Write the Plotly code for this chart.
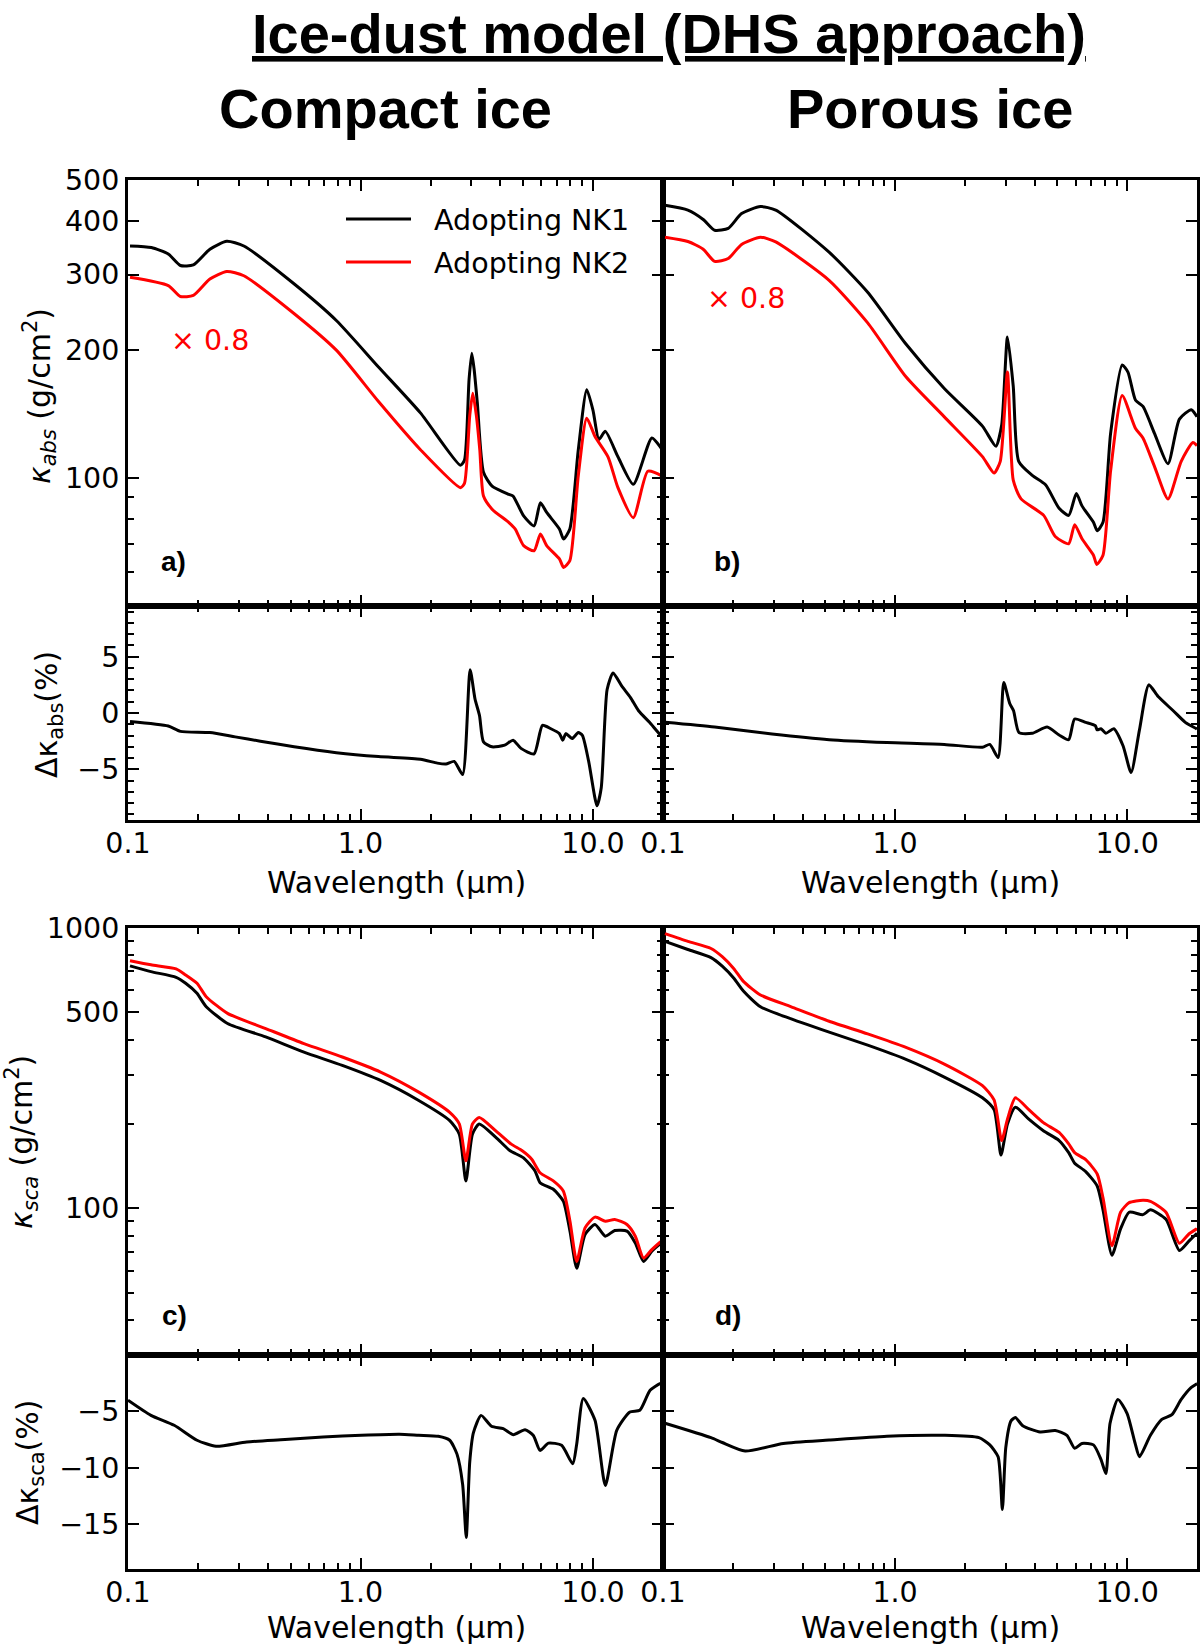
import numpy as np
import plotly.graph_objects as go

W, H = 1200, 1645

# ---------------- data ----------------
# panel a: compact ice, kappa_abs
wl_a_nk1 = [0.102, 0.126, 0.149, 0.168, 0.191, 0.225, 0.266, 0.315, 0.519, 0.787, 1.195, 1.81,
            2.69, 2.8, 2.93, 3.01, 3.08, 3.18, 3.38, 3.68, 4.35, 4.53, 5.03, 5.58, 5.94, 6.32,
            7.17, 7.47, 7.95, 8.64, 9.4, 10.0, 10.6, 11.3, 12.8, 14.9, 17.9, 19.5, 20.0]
kabs_a_nk1 = [350, 347, 335, 315, 316, 344, 359, 350, 285, 234, 182, 142,
              107, 110, 170, 196, 180, 150, 103, 95.6, 91.4, 90.6, 81.4, 77.1, 87.4, 82.9,
              75.8, 71.8, 75.8, 116, 161, 144, 123, 128.5, 112, 96.5, 124, 118, 115]
wl_a_nk2 = [0.102, 0.149, 0.168, 0.191, 0.225, 0.266, 0.315, 0.519, 0.787, 1.195, 1.81,
            2.69, 2.8, 2.95, 3.04, 3.15, 3.26, 3.38, 3.68, 4.35, 4.63, 5.03, 5.58, 5.94, 6.32,
            7.17, 7.47, 7.95, 8.64, 9.4, 10.2, 11.6, 12.8, 14.9, 17.2, 19.5, 20.0]
kabs_a_nk2_x08 = [295.5, 282.6, 266.4, 268, 292.8, 305, 298, 242.7, 199.3, 151, 116.4,
                  94.8, 97, 140, 157.9, 140, 116, 90.6, 84.4, 78.5, 75.8, 69.3, 67.4, 73.8, 69.3,
                  64.5, 61.6, 63.9, 100.9, 138, 125, 112, 94.8, 80.6, 103.6, 101.4, 100]

# panel b: porous ice, kappa_abs
wl_b_nk1 = [0.102, 0.128, 0.149, 0.167, 0.191, 0.218, 0.263, 0.306, 0.521, 0.762, 1.114, 1.63,
            2.38, 2.72, 2.88, 3.05, 3.23, 3.41, 3.9, 4.45, 5.09, 5.6, 6.04, 6.39, 7.16, 7.43,
            7.87, 8.49, 9.52, 10.08, 10.87, 11.7, 13.1, 15.0, 16.8, 18.9, 20.0]
kabs_b_nk1 = [436, 425, 404, 381, 385, 417, 433, 425, 338, 272.6, 206, 162,
              132.2, 118.6, 133, 214, 164, 109.3, 101.3, 96.3, 84.8, 81.6, 91.9, 85.9, 78.6, 75.1,
              78.6, 127.3, 183.9, 177, 152, 147, 127.3, 107.9, 137.3, 144.5, 139]
wl_b_nk2 = [0.102, 0.128, 0.149, 0.167, 0.191, 0.218, 0.263, 0.306, 0.521, 0.762, 1.114, 1.63,
            2.38, 2.67, 2.84, 3.05, 3.23, 3.49, 4.37, 4.9, 5.6, 5.94, 6.39, 7.16, 7.4,
            7.87, 8.49, 9.52, 10.87, 11.7, 13.1, 15.0, 17.1, 19.2, 20.0]
kabs_b_nk2_x08 = [367, 358.6, 344, 322, 327, 353, 367, 357.8, 290.4, 231, 172.6, 139,
                  112.1, 102.6, 109.3, 177, 98.7, 89.2, 81.6, 72.8, 70, 77.6, 71.9, 65.8, 62.6,
                  65.8, 103.9, 156, 130.5, 124, 106.5, 89.2, 109.3, 121, 119]

# relative difference of kappa_abs (%)
wl_da = [0.102, 0.149, 0.168, 0.225, 0.289, 0.371, 0.518, 0.787, 1.195, 1.81, 2.14, 2.33, 2.53,
         2.75, 2.96, 3.11, 3.25, 3.38, 3.68, 4.17, 4.53, 4.9, 5.58, 6.06, 6.59, 7.17, 7.41,
         7.64, 8.13, 8.64, 9.0, 9.58, 10.4, 10.85, 11.5, 12.2, 13.3, 14.5, 15.7, 17.5, 19.6, 20.0]
dkabs_a = [-0.76, -1.16, -1.63, -1.74, -2.12, -2.5, -3.0, -3.52, -3.87, -4.1, -4.45, -4.53, -4.3,
           -5.47, 3.84, 1.22, -0.23, -2.56, -3.0, -2.85, -2.41, -3.14, -3.63, -1.1, -1.4, -1.83, -2.41,
           -1.83, -2.27, -1.74, -1.98, -4.3, -8.23, -6.63, 2.09, 3.55, 2.38, 1.37, 0.2, -0.83, -2.0, -2.1]
wl_db = [0.102, 0.167, 0.295, 0.52, 0.922, 1.63, 2.38, 2.56, 2.78, 2.94, 3.12, 3.24, 3.42, 3.9,
         4.52, 5.09, 5.6, 5.94, 6.63, 7.29, 7.43, 7.71, 8.1, 8.76, 9.6, 10.4, 11.3, 12.4, 13.6,
         15.8, 17.8, 19.9, 20.0]
dkabs_b = [-0.83, -1.25, -1.87, -2.37, -2.62, -2.79, -3.04, -2.79, -3.95, 2.71, 0.84, 0.2, -1.75,
           -1.8, -1.25, -1.95, -2.37, -0.53, -0.83, -1.12, -1.5, -1.4, -1.8, -1.4, -2.91, -5.29,
           -1.5, 2.5, 1.46, 0.2, -0.83, -1.4, -1.45]

# panel c: compact ice, kappa_sca
wl_c_nk1 = [0.102, 0.1255, 0.161, 0.177, 0.198, 0.217, 0.268, 0.391, 0.571, 0.835, 1.22, 1.78,
            2.42, 2.66, 2.84, 3.03, 3.24, 3.82, 4.4, 5.01, 5.63, 5.92, 6.75, 7.45, 7.96, 8.51,
            9.24, 10.2, 11.3, 12.4, 14.0, 15.2, 16.5, 17.9, 19.7, 20.0]
ksca_c_nk1 = [733, 699, 667, 635, 585, 524, 456.6, 409, 361, 323.6, 286, 242.6,
              205.6, 184, 125.3, 184, 200, 179.2, 160.5, 151.7, 136, 123.5, 117, 106.2, 82.9, 61.2,
              80.7, 87.6, 79.6, 83.4, 83, 75.3, 64.7, 70.3, 75.3, 76]
wl_c_nk2 = [0.102, 0.1255, 0.161, 0.177, 0.198, 0.217, 0.268, 0.391, 0.571, 0.835, 1.22, 1.78,
            2.42, 2.66, 2.84, 3.03, 3.24, 3.82, 4.45, 4.96, 5.45, 5.92, 6.75, 7.45, 7.96, 8.51,
            9.24, 10.2, 11.3, 12.4, 14.0, 15.2, 16.5, 17.9, 19.7, 20.0]
ksca_c_nk2 = [764, 739, 715, 680, 635, 569, 496, 438, 387, 346.7, 306.4, 259.8,
              220, 200, 147.8, 200, 211, 189, 169.5, 160.5, 149.8, 134, 125.3, 115.3, 90, 64.7,
              85.2, 93.1, 90, 91.3, 87.6, 79.6, 66.5, 71.3, 76.4, 77]

# panel d: porous ice, kappa_sca
wl_d_nk1 = [0.102, 0.128, 0.161, 0.18, 0.202, 0.222, 0.263, 0.357, 0.52, 0.762, 1.114, 1.63,
            2.38, 2.67, 2.86, 3.05, 3.3, 3.77, 4.37, 5.09, 5.6, 5.94, 6.63, 7.43, 7.87, 8.6,
            9.37, 10.2, 11.7, 12.6, 14.7, 16.8, 18.5, 19.9, 20.0]
ksca_d_nk1 = [896, 838, 784, 731, 662, 596, 523.6, 474, 425, 382, 340, 294,
              248, 225, 155, 200, 229.6, 208, 188.8, 174.6, 158, 145, 135.3, 120.2, 98.8, 68.1,
              84.5, 96.9, 95, 98.8, 91.4, 70.8, 76.6, 81.2, 81.5]
wl_d_nk2 = [0.102, 0.128, 0.161, 0.18, 0.202, 0.222, 0.263, 0.357, 0.52, 0.762, 1.114, 1.63,
            2.38, 2.67, 2.88, 3.05, 3.3, 3.77, 4.37, 5.09, 5.6, 5.94, 6.63, 7.43, 7.87, 8.6,
            9.37, 10.2, 11.7, 12.6, 14.7, 16.8, 18.5, 19.9, 20.0]
ksca_d_nk2 = [955, 896, 845, 790, 716, 645, 577, 523.6, 465, 419, 375, 327,
              274, 243.6, 174.6, 208, 248, 225, 201.8, 186.6, 169.8, 158, 149.2, 132.6, 109, 73.6,
              96.9, 104.8, 106.9, 106, 96.9, 75.1, 81.2, 84.5, 85]

# relative difference of kappa_sca (%)
wl_dc = [0.1, 0.1255, 0.158, 0.198, 0.239, 0.324, 0.473, 0.69, 1.01, 1.47, 1.78, 2.16, 2.42,
         2.6, 2.75, 2.85, 2.95, 3.06, 3.3, 3.66, 4.11, 4.54, 5.1, 5.54, 5.92, 6.43, 7.33, 8.18,
         8.51, 9.08, 10.2, 11.3, 12.65, 14.4, 15.9, 17.6, 19.4, 20.0]
dksca_c = [-4.02, -5.36, -6.24, -7.57, -8.1, -7.72, -7.51, -7.28, -7.13, -7.04, -7.13, -7.22, -7.57,
           -8.8, -11.5, -16.2, -9.5, -6.9, -5.36, -6.33, -6.54, -7.08, -6.63, -7.14, -8.47, -7.82,
           -8.02, -9.66, -7.9, -3.87, -5.8, -11.58, -6.69, -5.06, -4.91, -3.13, -2.54, -2.5]
wl_dd = [0.102, 0.161, 0.18, 0.226, 0.33, 0.52, 0.922, 1.63, 2.3, 2.56, 2.78, 2.9, 3.0, 3.16,
         3.3, 3.55, 4.22, 4.9, 5.5, 5.94, 6.39, 7.16, 7.71, 8.1, 8.44, 9.12, 10.0, 10.8, 11.3,
         12.6, 14.1, 15.6, 17.1, 18.9, 19.9, 20.0]
dksca_d = [-6.06, -7.34, -7.77, -8.53, -7.85, -7.55, -7.21, -7.13, -7.34, -7.98, -9.04, -13.72,
           -8.2, -5.85, -5.55, -6.28, -6.83, -6.7, -7.13, -8.28, -7.85, -7.98, -9.26, -10.53,
           -6.06, -3.94, -5.2, -7.77, -9.04, -7.13, -5.72, -5.3, -3.94, -2.87, -2.57, -2.55]

x_ticks = [0.1, 1, 10]
x_ticktext = ["0.1", "1.0", "10.0"]
x_minor = [0.2, 0.3, 0.4, 0.5, 0.6, 0.7, 0.8, 0.9, 2, 3, 4, 5, 6, 7, 8, 9]
kabs_ticks = [100, 200, 300, 400, 500]
kabs_minor = [60, 70, 80, 90]
ksca_ticks = [100, 500, 1000]
ksca_minor = [40, 50, 60, 70, 80, 90, 200, 300, 400, 600, 700, 800, 900]
dabs_ticks = [-5, 0, 5]
dsca_ticks = [-15, -10, -5]

NK1 = "black"
NK2 = "#ff0000"
FONT = "DejaVu Sans"
TICK_SIZE = 28.5
LABEL_SIZE = 30


def px(x):
    return x / W


def py(y):
    return 1 - y / H


fig = go.Figure()

panels = [
    # (axis index, x data, y data, colour, name, legend)
    (1, wl_a_nk1, kabs_a_nk1, NK1, "Adopting NK1", True),
    (1, wl_a_nk2, kabs_a_nk2_x08, NK2, "Adopting NK2", True),
    (2, wl_b_nk1, kabs_b_nk1, NK1, "Adopting NK1", False),
    (2, wl_b_nk2, kabs_b_nk2_x08, NK2, "Adopting NK2", False),
    (3, wl_da, dkabs_a, NK1, "", False),
    (4, wl_db, dkabs_b, NK1, "", False),
    (5, wl_c_nk1, ksca_c_nk1, NK1, "Adopting NK1", False),
    (5, wl_c_nk2, ksca_c_nk2, NK2, "Adopting NK2", False),
    (6, wl_d_nk1, ksca_d_nk1, NK1, "Adopting NK1", False),
    (6, wl_d_nk2, ksca_d_nk2, NK2, "Adopting NK2", False),
    (7, wl_dc, dksca_c, NK1, "", False),
    (8, wl_dd, dksca_d, NK1, "", False),
]
for i, xs, ys, col, name, leg in panels:
    s = "" if i == 1 else str(i)
    fig.add_trace(go.Scatter(
        x=xs, y=ys, mode="lines", name="\u00a0\u00a0" + name, showlegend=leg,
        legendgroup=name,
        line=dict(color=col, width=3, shape="spline", smoothing=0.6),
        xaxis="x" + s, yaxis="y" + s,
    ))

left = [px(128), px(663)]
right = [px(663), px(1197)]
rows = {
    "a_top": [py(606), py(180)],
    "a_bot": [py(820), py(606)],
    "c_top": [py(1355), py(928)],
    "c_bot": [py(1569), py(1355)],
}
# axis index -> (x domain, y domain, kind, show x labels, show y labels)
layout_map = {
    1: (left, rows["a_top"], "kabs", False, True),
    2: (right, rows["a_top"], "kabs", False, False),
    3: (left, rows["a_bot"], "dabs", True, True),
    4: (right, rows["a_bot"], "dabs", True, False),
    5: (left, rows["c_top"], "ksca", False, True),
    6: (right, rows["c_top"], "ksca", False, False),
    7: (left, rows["c_bot"], "dsca", True, True),
    8: (right, rows["c_bot"], "dsca", True, False),
}

common = dict(
    showline=True, linecolor="black", linewidth=3, mirror="allticks",
    ticks="inside", ticklen=11, tickwidth=2, tickcolor="black",
    showgrid=False, zeroline=False, automargin=False,
    tickfont=dict(family=FONT, size=TICK_SIZE, color="black"),
)

axes = {}
for i, (xd, yd, kind, xlab, ylab) in layout_map.items():
    s = "" if i == 1 else str(i)
    axes["xaxis" + s] = dict(
        common, domain=xd, anchor="y" + s, type="log",
        range=[-1, np.log10(20)],
        tickmode="array", tickvals=x_ticks, ticktext=x_ticktext,
        showticklabels=xlab, ticklabelstandoff=-4,
        minor=dict(tickmode="array", tickvals=x_minor, ticks="inside",
                   ticklen=6, tickwidth=2, tickcolor="black"),
    )
    if kind == "kabs":
        yax = dict(type="log", range=[np.log10(50), np.log10(500)],
                   tickmode="array", tickvals=kabs_ticks,
                   ticktext=[str(v) for v in kabs_ticks],
                   minor=dict(tickmode="array", tickvals=kabs_minor, ticks="inside",
                              ticklen=6, tickwidth=2, tickcolor="black"))
    elif kind == "ksca":
        yax = dict(type="log", range=[np.log10(30), 3],
                   tickmode="array", tickvals=ksca_ticks,
                   ticktext=[str(v) for v in ksca_ticks],
                   minor=dict(tickmode="array", tickvals=ksca_minor, ticks="inside",
                              ticklen=6, tickwidth=2, tickcolor="black"))
    elif kind == "dabs":
        yax = dict(range=[-9.5, 9.5], tickmode="array", tickvals=dabs_ticks,
                   ticktext=[str(v).replace("-", "\u2212") for v in dabs_ticks],
                   minor=dict(dtick=1, ticks="inside", ticklen=6, tickwidth=2,
                              tickcolor="black"))
    else:
        yax = dict(range=[-19, 0], tickmode="array", tickvals=dsca_ticks,
                   ticktext=[str(v).replace("-", "\u2212") for v in dsca_ticks])
    axes["yaxis" + s] = dict(common, domain=yd, anchor="x" + s,
                             showticklabels=ylab, **yax)

bold = "Liberation Sans"
lab = dict(family=FONT, size=LABEL_SIZE, color="black")
annotations = [
    dict(text="<b><u>Ice-dust model (DHS approach)</u></b>", x=px(669), y=1.0,
         yanchor="top", font=dict(family=bold, size=56, color="black")),
    dict(text="<b>Compact ice</b>", x=px(385), y=py(108),
         font=dict(family=bold, size=56, color="black")),
    dict(text="<b>Porous ice</b>", x=px(930), y=py(108),
         font=dict(family=bold, size=56, color="black")),
    dict(text="<i>κ<sub>abs</sub></i> (g/cm<sup>2</sup>)", x=px(40), y=py(396),
         textangle=-90, font=lab),
    dict(text="Δκ<sub>abs</sub>(%)", x=px(48), y=py(715), textangle=-90, font=lab),
    dict(text="<i>κ<sub>sca</sub></i> (g/cm<sup>2</sup>)", x=px(21), y=py(1142),
         textangle=-90, font=lab),
    dict(text="Δκ<sub>sca</sub>(%)", x=px(29), y=py(1463), textangle=-90, font=lab),
    dict(text="Wavelength (μm)", x=px(396), y=py(882), font=lab),
    dict(text="Wavelength (μm)", x=px(930), y=py(882), font=lab),
    dict(text="Wavelength (μm)", x=px(396), y=py(1627), font=lab),
    dict(text="Wavelength (μm)", x=px(930), y=py(1627), font=lab),
    dict(text="<b>a)</b>", x=px(173), y=py(561), font=dict(family=bold, size=28, color="black")),
    dict(text="<b>b)</b>", x=px(727), y=py(561), font=dict(family=bold, size=28, color="black")),
    dict(text="<b>c)</b>", x=px(174), y=py(1315), font=dict(family=bold, size=28, color="black")),
    dict(text="<b>d)</b>", x=px(728), y=py(1315), font=dict(family=bold, size=28, color="black")),
    dict(text="× 0.8", x=px(210), y=py(340), font=dict(family=FONT, size=TICK_SIZE, color=NK2)),
    dict(text="× 0.8", x=px(746), y=py(298), font=dict(family=FONT, size=TICK_SIZE, color=NK2)),
]
for a in annotations:
    a.setdefault("yanchor", "middle")
    a.update(xref="paper", yref="paper", showarrow=False, xanchor="center")

fig.update_layout(
    template="none",
    width=W, height=H,
    margin=dict(l=0, r=0, t=0, b=0, pad=0),
    paper_bgcolor="white", plot_bgcolor="white",
    font=dict(family=FONT, color="black"),
    showlegend=True,
    legend=dict(x=px(341), y=py(194), xanchor="left", yanchor="top",
                bgcolor="rgba(0,0,0,0)", itemwidth=65, tracegroupgap=3,
                font=dict(family=FONT, size=TICK_SIZE, color="black")),
    annotations=annotations,
    **axes,
)

# the page body has a default 8px margin; drop it so the figure sits at 0,0
fig.write_html(
    "out.html",
    config={"displayModeBar": False},
    post_script="document.body.style.margin='0px';document.body.style.overflow='hidden';",
)
